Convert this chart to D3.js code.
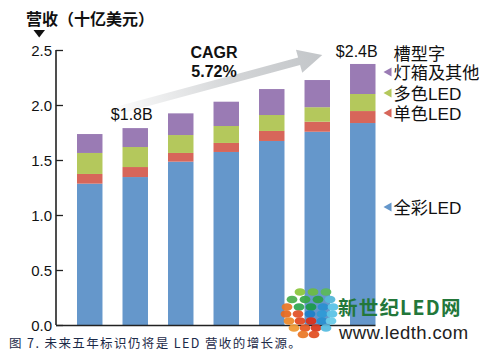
<!DOCTYPE html>
<html><head><meta charset="utf-8">
<script src="https://cdn.jsdelivr.net/npm/d3@7"></script>
<style>
html,body{margin:0;padding:0;background:#fff;}
svg{display:block;}
</style></head>
<body>
<svg id="c" width="492" height="362"></svg>
<script>
const categories = ["Y1","Y2","Y3","Y4","Y5","Y6","Y7"];
const fullColor = [1.285, 1.345, 1.485, 1.573, 1.673, 1.757, 1.836];
const singleColor = [0.088, 0.091, 0.079, 0.082, 0.091, 0.091, 0.109];
const multiColor = [0.191, 0.182, 0.163, 0.154, 0.145, 0.132, 0.155];
const boxOther = [0.172, 0.172, 0.197, 0.221, 0.236, 0.247, 0.273];
const seriesNames = ["全彩LED","单色LED","多色LED","灯箱及其他"];
const seriesColors = ["#6597CB","#D7665A","#B4C85C","#9A7BB4"];
const yTicks = [0.0, 0.5, 1.0, 1.5, 2.0, 2.5];
const startLabel = "$1.8B", endLabel = "$2.4B";
const cagrLabel = ["CAGR","5.72%"];
const title = "营收（十亿美元）";
const caption = "图 7. 未来五年标识仍将是 LED 营收的增长源。";

const svg = d3.select("#c");
const left = 56, bottom = 325;
const y = d3.scaleLinear().domain([0, 2.5]).range([bottom, 50]);
const x = d3.scaleBand().domain(categories).range([left, 396.5]).paddingInner(0.44).paddingOuter(0.4615);

const rows = categories.map((c,i)=>({cat:c, s0:fullColor[i], s1:singleColor[i], s2:multiColor[i], s3:boxOther[i]}));
const stack = d3.stack().keys(["s0","s1","s2","s3"])(rows);

// arrow gradient
const defs = svg.append("defs");
const grad = defs.append("linearGradient").attr("id","ag").attr("gradientUnits","userSpaceOnUse");
const x1 = x(categories[0]) + x.bandwidth()/2 + 18, y1 = y(1.927);
const x2 = x(categories[5]) + x.bandwidth()/2 + 5, y2 = y(2.455);
grad.attr("x1",x1).attr("y1",y1).attr("x2",x2).attr("y2",y2);
grad.append("stop").attr("offset",0).attr("stop-color","#ffffff");
grad.append("stop").attr("offset",0.6).attr("stop-color","#d2d4d6");
grad.append("stop").attr("offset",1).attr("stop-color","#c3c6c9");
{
  const dx = x2-x1, dy = y2-y1, L = Math.hypot(dx,dy);
  const ux = dx/L, uy = dy/L, nx = -uy, ny = ux;
  const hw = 3.8, headL = 24, headW = 12;
  const bx = x2 - ux*headL, by = y2 - uy*headL;
  const pts = [
    [x1+nx*hw, y1+ny*hw],[bx+nx*hw, by+ny*hw],[bx+nx*headW, by+ny*headW],[x2,y2],
    [bx-nx*headW, by-ny*headW],[bx-nx*hw, by-ny*hw],[x1-nx*hw, y1-ny*hw]];
  svg.append("path").attr("d", d3.line()(pts)+"Z").attr("fill","url(#ag)");
}

// bars
svg.append("g").selectAll("g").data(stack).join("g")
  .attr("fill",(d,i)=>seriesColors[i])
  .selectAll("rect").data(d=>d).join("rect")
  .attr("x",d=>x(d.data.cat)).attr("width",x.bandwidth())
  .attr("y",d=>y(d[1])).attr("height",d=>y(d[0])-y(d[1]));

// y axis
const ya = svg.append("g").attr("transform",`translate(${left},0)`)
  .call(d3.axisRight(y).tickValues(yTicks).tickFormat(d3.format(".1f")).tickSize(7).tickPadding(0));
ya.select(".domain").remove();
ya.selectAll("line").attr("stroke","#222").attr("stroke-width",1.3);
ya.selectAll("text").attr("x",-4).attr("text-anchor","end").attr("dy","0.36em")
  .attr("font-family","Liberation Sans, Arial, sans-serif").attr("font-size",15).attr("fill","#111");
svg.append("line").attr("x1",left).attr("x2",left).attr("y1",y(2.5)).attr("y2",bottom)
  .attr("stroke","#222").attr("stroke-width",1.6);
const lastCat = categories[categories.length-1];
svg.append("line").attr("x1",left).attr("x2",x(lastCat)+x.bandwidth()).attr("y1",bottom+0.5).attr("y2",bottom+0.5)
  .attr("stroke","#222").attr("stroke-width",1.6);

// title
svg.append("text").attr("x",26).attr("y",25).text(title)
  .attr("font-family","Noto Sans CJK SC").attr("font-weight","bold").attr("font-size",16).attr("fill","#111");
svg.append("path").attr("d","M33.5,30 L45,30 L39.2,37.5Z").attr("fill","#111");

// labels
const f = "Liberation Sans, Arial, sans-serif";
svg.append("text").attr("x",x(categories[0])+x.bandwidth()/2+42).attr("y",y(1.86)).attr("text-anchor","middle")
  .text(startLabel).attr("font-family",f).attr("font-size",16).attr("fill","#111");
svg.append("text").attr("x",x(lastCat)+x.bandwidth()/2-6).attr("y",y(2.435)).attr("text-anchor","middle")
  .text(endLabel).attr("font-family",f).attr("font-size",16).attr("fill","#111");
cagrLabel.forEach((t,i)=>svg.append("text").attr("x",214).attr("y",58+i*19).attr("text-anchor","middle")
  .text(t).attr("font-family",f).attr("font-weight","bold").attr("font-size",16).attr("fill","#111"));

// legend
const lx = x(lastCat)+x.bandwidth();
const legY = [212, 118, 98, 77];
const lg = svg.append("g");
seriesNames.forEach((n,i)=>{
  const yy = legY[i];
  lg.append("path").attr("d",`M${lx+8},${yy-5} L${lx+16},${yy-9.5} L${lx+16},${yy-0.5}Z`).attr("fill",seriesColors[i]);
  lg.append("text").attr("x",lx+18).attr("y",yy+1.5).text(n)
    .attr("font-family","Liberation Sans, Noto Sans CJK SC").attr("font-size",17.2).attr("fill","#111");
});
lg.append("text").attr("x",lx+18).attr("y",59.5).text("槽型字")
  .attr("font-family","Noto Sans CJK SC").attr("font-size",17.2).attr("fill","#111");

// caption
svg.append("text").attr("x",9).attr("y",348).text(caption)
  .attr("font-family","Noto Sans CJK SC").attr("font-size",12.5).attr("letter-spacing",1.4).attr("fill","#1c2a48");

// watermark logo
const logo = svg.append("g");
const dotRows = [
  {yy:292, xs:[300,313,326], c:["#8cc63f","#6dbb45","#5cb85c"]},
  {yy:299.5, xs:[292,305,318,330], c:["#4fb050","#3aa84a","#2e9e48","#55b7d8"]},
  {yy:307, xs:[287,299,311,323,333], c:["#e9782a","#34a853","#1c9a4a","#2b8fd0","#5cc3e6"]},
  {yy:314, xs:[286,298,310,322,332], c:["#e66a22","#e2532a","#1f7fc8","#2f9ad6","#5cc3e6"]},
  {yy:321, xs:[289,300,311,322,331], c:["#ec8a2b","#e14a22","#d9321c","#2b8fd0","#6ccbe8"]},
  {yy:328, xs:[294,305,316,326], c:["#ef9a35","#e65b25","#d93a1f","#58bde0"]},
  {yy:334.5, xs:[303,314], c:["#ea7a2a","#e25025"]}
];
dotRows.forEach(r=>r.xs.forEach((xx,j)=>logo.append("ellipse").attr("cx",xx).attr("cy",r.yy)
  .attr("rx",5.4).attr("ry",3.8).attr("fill",r.c[j]).attr("opacity",0.95)));
logo.append("text").attr("x",338).attr("y",315).text("新世纪LED网")
  .attr("font-family","Noto Sans CJK SC").attr("font-weight","bold").attr("font-size",19.5).attr("letter-spacing",1.2).attr("fill","#23773a");
logo.append("text").attr("x",339).attr("y",338.5).text("www.ledth.com")
  .attr("font-family","Liberation Sans, Arial").attr("font-size",18.5).attr("letter-spacing",0.4).attr("fill","#222");
</script>
</body></html>
